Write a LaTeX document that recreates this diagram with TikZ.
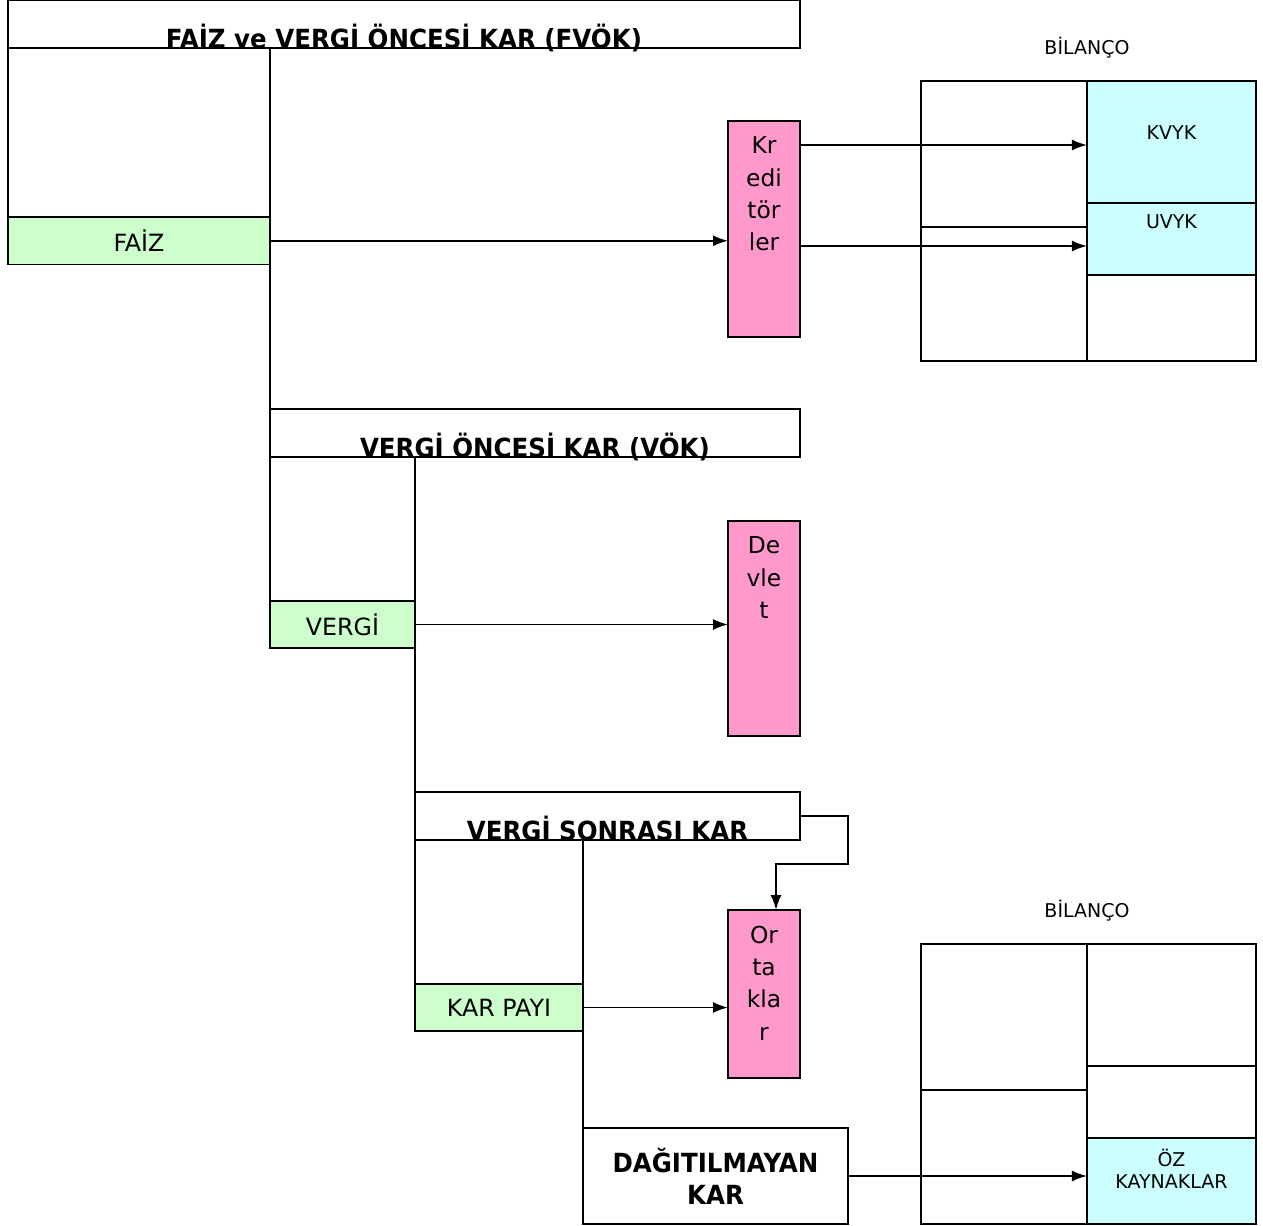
\documentclass[tikz,border=0pt]{standalone}
\usepackage{fontspec}
\setmainfont{DejaVu Sans}
\newfontfamily\ttlfont{DejaVu Sans}[FakeStretch=0.93]
\usetikzlibrary{arrows.meta,positioning}
\definecolor{karyesil}{HTML}{CCFFCC}
\definecolor{karpembe}{HTML}{FF99CC}
\definecolor{bilmavi}{HTML}{CCFFFF}

\begin{document}
\begin{tikzpicture}[
    x=0.02cm, y=-0.02cm,
    line width=1pt,
    base/.style={draw, inner sep=0pt, outer sep=0pt, anchor=north west},
    titlebox/.style={base, minimum height=9.6mm},
    ttl/.style={font=\ttlfont\bfseries\fontsize{15}{18}\selectfont, anchor=base, inner sep=0pt, yshift=-0.1mm},
    greenbox/.style={base, fill=karyesil, minimum height=9.5mm, font=\fontsize{13.5}{16}\selectfont},
    pinkbox/.style={base, fill=karpembe, minimum width=14.4mm},
    pinktxt/.style={anchor=north, align=center, inner sep=0pt, yshift=-3mm, font=\fontsize{13.3}{18.4}\selectfont},
    cyanbox/.style={base, fill=bilmavi, minimum width=33.8mm},
    lbl/.style={inner sep=0pt, align=center, font=\fontsize{10.8}{12.5}\selectfont},
    arrow/.style={-{Latex[length=3mm,width=2.2mm]}}
  ]
    \useasboundingbox (0,0) rectangle (1263,1225);

    % kar dagilimi
    \node[titlebox, minimum width=158.4mm, label={[ttl]south:FAİZ ve VERGİ ÖNCESİ KAR (FVÖK)}] (fvok) at (8,0) {};
    \node[greenbox, minimum width=52.4mm] (faiz) at (8,217) {FAİZ};
    \node[pinkbox, minimum height=43.2mm, label={[pinktxt]north:Kr\\edi\\tör\\ler}] (kred) at (728,121) {};

    \node[titlebox, minimum width=106mm, label={[ttl]south:VERGİ ÖNCESİ KAR (VÖK)}] (vok) at (270,409) {};
    \node[greenbox, minimum width=29mm, minimum height=9.4mm] (vergi) at (270,601) {VERGİ};
    \node[pinkbox, minimum height=43mm, label={[pinktxt]north:De\\vle\\t}] (devlet) at (728,521) {};

    \node[titlebox, minimum width=77mm, label={[ttl]south:VERGİ SONRASI KAR}] (vsk) at (415,792) {};
    \node[greenbox, minimum width=33.6mm, minimum height=9.4mm] (karpayi) at (415,984) {KAR PAYI};
    \node[pinkbox, minimum height=33.6mm, label={[pinktxt]north:Or\\ta\\kla\\r}] (ortak) at (728,910) {};
    \node[base, minimum width=53mm, minimum height=19.2mm, align=center, font=\ttlfont\bfseries\fontsize{15}{18}\selectfont] (dagit) at (583,1128) {DAĞITILMAYAN\\KAR};

    % bilanco 1
    \node[base, minimum width=33.2mm, minimum height=29.2mm] (akt1) at (921,81) {};
    \node[base, below=0pt of akt1, minimum width=33.2mm, minimum height=26.8mm] (akt1b) {};
    \node[cyanbox, minimum height=24.4mm, label={[lbl, anchor=center, yshift=-10.4mm]north:KVYK}] (kvyk) at (akt1.north east) {};
    \node[cyanbox, below=0pt of kvyk, minimum height=14.4mm, label={[lbl, anchor=center, yshift=-3.8mm]north:UVYK}] (uvyk) {};
    \node[base, below=0pt of uvyk, minimum width=33.8mm, minimum height=17.2mm] (pas1c) {};
    \node[lbl, above=4.4mm of akt1.north east] (bil1) {BİLANÇO};

    % bilanco 2
    \node[base, minimum width=33.2mm, minimum height=29.2mm] (akt2) at (921,944) {};
    \node[base, below=0pt of akt2, minimum width=33.2mm, minimum height=26.8mm] (akt2b) {};
    \node[base, minimum width=33.8mm, minimum height=24.4mm] (pas2a) at (akt2.north east) {};
    \node[base, below=0pt of pas2a, minimum width=33.8mm, minimum height=14.4mm] (pas2b) {};
    \node[cyanbox, below=0pt of pas2b, minimum height=17.2mm, label={[lbl, anchor=center, yshift=-6.2mm]north:ÖZ\\KAYNAKLAR}] (oz) {};
    \node[lbl, above=4.4mm of akt2.north east] (bil2) {BİLANÇO};

    % baglantilar
    \draw (faiz.north west) -- (faiz.north west |- fvok.south);
    \draw (vergi.north west |- fvok.south) -- (vergi.north west);
    \draw (vsk.north west |- vok.south) -- (vsk.north west);
    \draw (karpayi.north west) -- (karpayi.north west |- vsk.south);
    \draw (dagit.north west |- vsk.south) -- (dagit.north west);

    \coordinate (k1) at ([yshift=-4.8mm]kred.north east);
    \coordinate (k2) at ([yshift=-25mm]kred.north east);
    \draw[arrow] (faiz.east) -- (faiz.east -| kred.west);
    \draw[arrow] (k1) -- (k1 -| kvyk.west);
    \draw[arrow] (k2) -- (k2 -| uvyk.west);
    \draw[arrow] (vergi.east) -- (vergi.east -| devlet.west);
    \draw[arrow] (vsk.east) -- (vsk.east -| dagit.east) -- ++(0,-9.6mm) -| ([xshift=2.4mm]ortak.north);
    \draw[arrow] (karpayi.east) -- (karpayi.east -| ortak.west);
    \draw[arrow] (dagit.east) -- (dagit.east -| oz.west);
  \end{tikzpicture}
\end{document}
